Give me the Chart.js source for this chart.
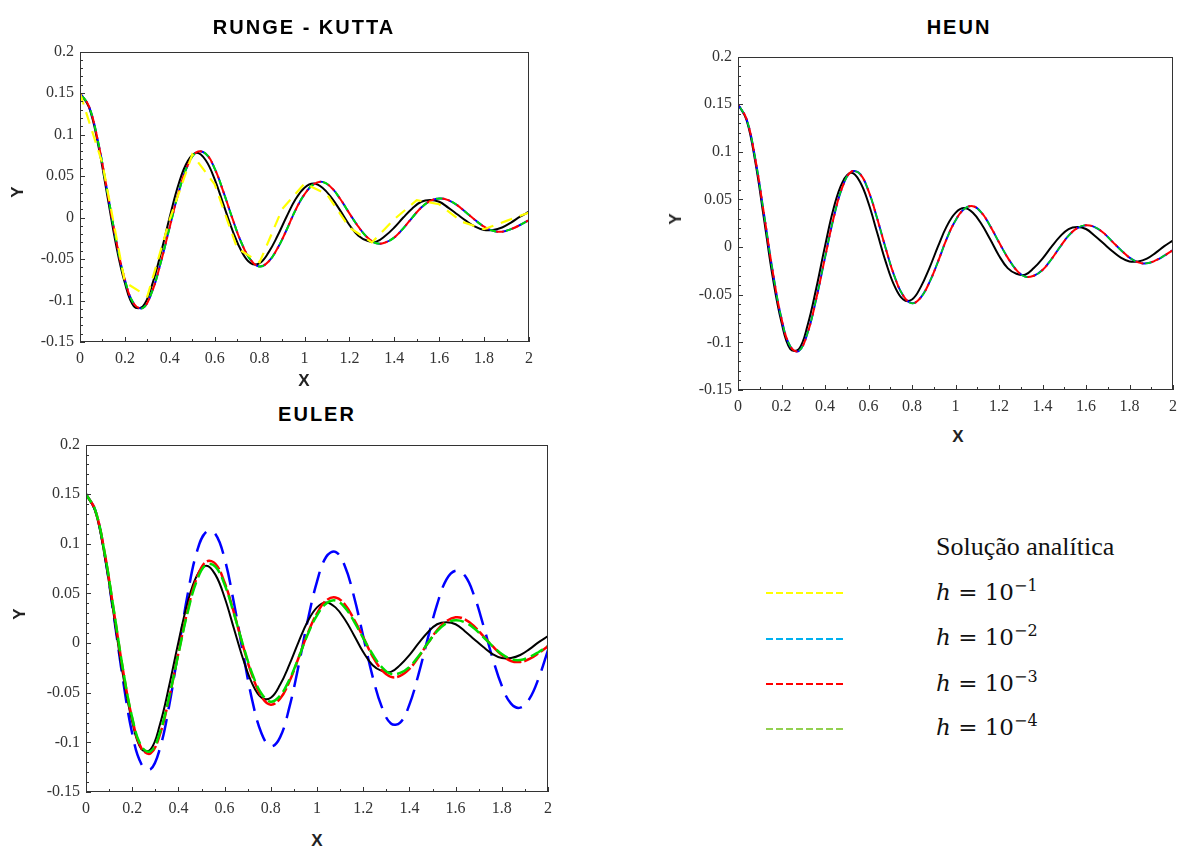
<!DOCTYPE html>
<html>
<head>
<meta charset="utf-8">
<title>Runge-Kutta / Heun / Euler</title>
<script src="https://cdn.jsdelivr.net/npm/chart.js@4.4.1/dist/chart.umd.min.js"></script>
<style>
  html, body { margin: 0; padding: 0; background: #fff; }
  body { width: 1184px; height: 851px; position: relative; overflow: hidden; }
  canvas { position: absolute; }
  .title {
    position: absolute; transform: translate(-50%, -50%);
    font: bold 20px "Liberation Sans", Arial, sans-serif;
    letter-spacing: 2px; white-space: nowrap; color: #000;
  }
  .axis-lbl {
    position: absolute; transform: translate(-50%, -50%);
    font: bold 17px "Liberation Sans", Arial, sans-serif; color: #222;
  }
  .axis-lbl.y { transform: translate(-50%, -50%) rotate(-90deg); }
  .leg-text {
    position: absolute; transform: translateY(-50%);
    font: 26px "Liberation Serif", "Times New Roman", serif; color: #111; white-space: nowrap;
  }
  .leg-math {
    position: absolute; transform: translateY(-50%);
    font: 23px "DejaVu Serif", serif; color: #111; white-space: nowrap;
  }
  .leg-math sup { font-size: 16px; vertical-align: 9px; line-height: 0; }
  #legendLines { position: absolute; left: 760px; top: 580px; }
</style>
</head>
<body>

<canvas id="rkChart"></canvas>
<canvas id="heunChart"></canvas>
<canvas id="eulerChart"></canvas>

<div class="title" style="left:304px; top:27px;">RUNGE - KUTTA</div>
<div class="title" style="left:959px; top:27px;">HEUN</div>
<div class="title" style="left:317px; top:414px;">EULER</div>

<div class="axis-lbl" style="left:304px; top:381px;">X</div>
<div class="axis-lbl y" style="left:18px; top:192px;">Y</div>
<div class="axis-lbl" style="left:958px; top:437px;">X</div>
<div class="axis-lbl y" style="left:676px; top:219px;">Y</div>
<div class="axis-lbl" style="left:317px; top:841px;">X</div>
<div class="axis-lbl y" style="left:20px; top:614px;">Y</div>

<!-- legend -->
<div class="leg-text" style="left:936px; top:547px;">Solução analítica</div>
<div class="leg-math" style="left:936px; top:592px;"><i>h</i> = 10<sup>−1</sup></div>
<div class="leg-math" style="left:936px; top:637px;"><i>h</i> = 10<sup>−2</sup></div>
<div class="leg-math" style="left:936px; top:683px;"><i>h</i> = 10<sup>−3</sup></div>
<div class="leg-math" style="left:936px; top:727px;"><i>h</i> = 10<sup>−4</sup></div>
<svg id="legendLines" width="90" height="160">
  <line x1="6" y1="13" x2="83" y2="13" stroke="#ffff00" stroke-width="2" stroke-dasharray="7 3"/>
  <line x1="6" y1="59" x2="83" y2="59" stroke="#00b0f0" stroke-width="2" stroke-dasharray="7 3"/>
  <line x1="6" y1="104" x2="83" y2="104" stroke="#ff0000" stroke-width="2" stroke-dasharray="7 3"/>
  <line x1="6" y1="149" x2="83" y2="149" stroke="#92d050" stroke-width="2" stroke-dasharray="7 3"/>
</svg>

<script>
/* ---------- Data ---------- */
const xSteps = [
  0, 0.04, 0.08, 0.12, 0.16, 0.2, 0.24, 0.28, 0.32, 0.36,
  0.4, 0.44, 0.48, 0.52, 0.56, 0.6, 0.64, 0.68, 0.72, 0.76,
  0.8, 0.84, 0.88, 0.92, 0.96, 1, 1.04, 1.08, 1.12, 1.16,
  1.2, 1.24, 1.28, 1.32, 1.36, 1.4, 1.44, 1.48, 1.52, 1.56,
  1.6, 1.64, 1.68, 1.72, 1.76, 1.8, 1.84, 1.88, 1.92, 1.96,
  2
];

// black solid - "Solução analítica"
const analytic = [
  0.150, 0.133, 0.089, 0.029, -0.032, -0.079, -0.107, -0.107, -0.082, -0.043,
  0.001, 0.041, 0.068, 0.078, 0.069, 0.046, 0.015, -0.016, -0.041, -0.055,
  -0.055, -0.042, -0.022, 0.001, 0.022, 0.036, 0.041, 0.036, 0.024, 0.008,
  -0.009, -0.022, -0.028, -0.029, -0.022, -0.012, 0.000, 0.011, 0.019, 0.021,
  0.019, 0.012, 0.004, -0.004, -0.011, -0.015, -0.015, -0.012, -0.006, 0.001,
  0.007
];

// small step solutions (h = 1e-2 .. 1e-4 for RK and Heun, h = 1e-4 for Euler)
const fineStep = [
  0.150, 0.134, 0.092, 0.034, -0.026, -0.075, -0.104, -0.109, -0.090, -0.054,
  -0.011, 0.031, 0.063, 0.079, 0.077, 0.059, 0.030, -0.002, -0.031, -0.051,
  -0.059, -0.053, -0.037, -0.015, 0.009, 0.028, 0.040, 0.043, 0.036, 0.022,
  0.005, -0.011, -0.024, -0.031, -0.030, -0.024, -0.013, 0.000, 0.012, 0.020,
  0.023, 0.021, 0.015, 0.006, -0.003, -0.011, -0.016, -0.017, -0.014, -0.009,
  -0.003
];

// Euler, h = 1e-3 (red)
const eulerH3 = [
  0.150, 0.134, 0.092, 0.033, -0.027, -0.076, -0.106, -0.111, -0.092, -0.055,
  -0.010, 0.033, 0.066, 0.082, 0.080, 0.061, 0.031, -0.003, -0.033, -0.054,
  -0.062, -0.056, -0.039, -0.015, 0.010, 0.030, 0.043, 0.046, 0.039, 0.024,
  0.006, -0.013, -0.027, -0.034, -0.033, -0.026, -0.014, 0.000, 0.013, 0.022,
  0.026, 0.024, 0.017, 0.007, -0.003, -0.012, -0.018, -0.019, -0.016, -0.010,
  -0.003
];

// Euler, h = 1e-2 (blue)
const eulerH2 = [
  0.150, 0.134, 0.090, 0.028, -0.037, -0.091, -0.122, -0.127, -0.106, -0.063,
  -0.007, 0.049, 0.092, 0.112, 0.110, 0.085, 0.041, -0.010, -0.058, -0.091,
  -0.104, -0.095, -0.065, -0.023, 0.023, 0.062, 0.087, 0.092, 0.078, 0.047,
  0.007, -0.033, -0.064, -0.081, -0.080, -0.062, -0.031, 0.005, 0.039, 0.064,
  0.073, 0.068, 0.048, 0.018, -0.015, -0.043, -0.061, -0.065, -0.056, -0.035,
  -0.007
];

// Runge-Kutta, h = 1e-1 (yellow)
const rkCoarseX = [0, 0.1, 0.2, 0.3, 0.4, 0.5, 0.6, 0.7, 0.8, 0.9, 1, 1.1, 1.2, 1.3, 1.4, 1.5, 1.6, 1.7, 1.8, 1.9, 2];
const rkCoarse = [0.150, 0.065, -0.078, -0.095, -0.002, 0.076, 0.040, -0.037, -0.054, 0.010, 0.041, 0.028, -0.012, -0.030, -0.002, 0.021, 0.016, -0.005, -0.014, -0.004, 0.006];

const yRange = [-0.15, 0.2];
const xRange = [0, 2];

/* ---------- Helpers ---------- */
function toPoints(xs, ys) {
  return xs.map((x, i) => ({ x: x, y: ys[i] }));
}

function fmt(v) {
  return String(parseFloat(Number(v).toFixed(2)));
}

// frame + inward major/minor ticks, like the original plotting tool
const frameTicks = {
  id: "frameTicks",
  afterDatasetsDraw(chart) {
    const { ctx, chartArea: a, scales } = chart;
    const x = scales.x;
    const y = scales.y;
    ctx.save();
    ctx.strokeStyle = "#333";
    ctx.lineWidth = 1;
    ctx.strokeRect(Math.round(a.left) + 0.5, Math.round(a.top) + 0.5,
      Math.round(a.width) - 1, Math.round(a.height) - 1);

    ctx.beginPath();
    for (let i = 0; i <= 20; i++) {
      const v = xRange[0] + i * 0.1;
      const px = Math.round(x.getPixelForValue(v)) + 0.5;
      const len = i % 2 === 0 ? 5 : 3;
      ctx.moveTo(px, a.bottom);
      ctx.lineTo(px, a.bottom - len);
    }
    for (let i = 0; i <= 35; i++) {
      const v = yRange[0] + i * 0.01;
      const py = Math.round(y.getPixelForValue(v)) + 0.5;
      const len = i % 5 === 0 ? 5 : 3;
      ctx.moveTo(a.left, py);
      ctx.lineTo(a.left + len, py);
    }
    ctx.stroke();
    ctx.restore();
  }
};

function lineSet(data, color, width, dash, offset, order, tension) {
  return {
    data: data,
    borderColor: color,
    borderWidth: width,
    borderDash: dash,
    borderDashOffset: offset || 0,
    pointRadius: 0,
    fill: false,
    tension: tension === undefined ? 0.4 : tension,
    order: order
  };
}

function makeChart(id, box, datasets) {
  const canvas = document.getElementById(id);
  canvas.width = box.w;
  canvas.height = box.h;
  canvas.style.left = box.left + "px";
  canvas.style.top = box.top + "px";

  const tickFont = { family: "'Liberation Serif', 'Times New Roman', serif", size: 16 };

  return new Chart(canvas, {
    type: "line",
    data: { datasets: datasets },
    options: {
      responsive: false,
      animation: false,
      devicePixelRatio: 1,
      layout: { padding: { top: 10, right: box.padRight, left: 0, bottom: 0 } },
      plugins: { legend: { display: false }, tooltip: { enabled: false } },
      scales: {
        x: {
          type: "linear",
          min: xRange[0],
          max: xRange[1],
          ticks: { stepSize: 0.2, color: "#333", padding: 7, maxRotation: 0, callback: fmt, font: tickFont },
          grid: { display: false, drawTicks: false },
          border: { display: false },
          afterFit: (s) => { s.height = 35; }
        },
        y: {
          type: "linear",
          min: yRange[0],
          max: yRange[1],
          ticks: { stepSize: 0.05, color: "#333", padding: 6, callback: fmt, font: tickFont },
          grid: { display: false, drawTicks: false },
          border: { display: false },
          afterFit: (s) => { s.width = 70; }
        }
      }
    },
    plugins: [frameTicks]
  });
}

/* ---------- Charts ---------- */
document.addEventListener("DOMContentLoaded", function () {
  const analyticPts = toPoints(xSteps, analytic);
  const finePts = toPoints(xSteps, fineStep);

  makeChart("rkChart", { left: 10, top: 36, w: 534, h: 341, padRight: 15 }, [
    lineSet(analyticPts, "#000000", 2, [], 0, 6),
    lineSet(finePts, "#0000ff", 2, [12, 4], 0, 5),
    lineSet(finePts, "#ff0000", 2, [8, 8], 6, 4),
    lineSet(finePts, "#00dd00", 2, [6, 10], 12, 3),
    lineSet(toPoints(rkCoarseX, rkCoarse), "#ffff00", 2.2, [12, 8], 0, 1, 0)
  ]);

  makeChart("heunChart", { left: 668, top: 41, w: 516, h: 384, padRight: 5 }, [
    lineSet(analyticPts, "#000000", 2, [], 0, 6),
    lineSet(finePts, "#0000ff", 2, [12, 4], 0, 5),
    lineSet(finePts, "#ff0000", 2, [8, 8], 6, 4),
    lineSet(finePts, "#00dd00", 1.6, [6, 10], 12, 3)
  ]);

  makeChart("eulerChart", { left: 16, top: 429, w: 547, h: 398, padRight: 15 }, [
    lineSet(toPoints(xSteps, eulerH2), "#0000ff", 2.5, [22, 10], 0, 6),
    lineSet(analyticPts, "#000000", 2, [], 0, 5),
    lineSet(toPoints(xSteps, eulerH3), "#ff0000", 2.5, [16, 3], 0, 4),
    lineSet(finePts, "#00dd00", 2.5, [14, 5], 4, 3)
  ]);
});
</script>
</body>
</html>
